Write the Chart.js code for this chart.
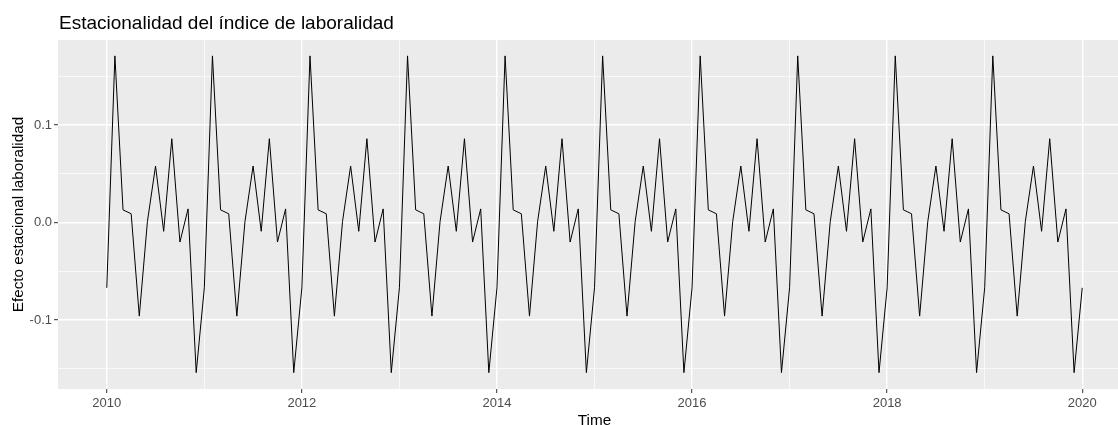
<!DOCTYPE html>
<html>
<head>
<meta charset="utf-8">
<script src="https://cdn.jsdelivr.net/npm/chart.js@4.4.1/dist/chart.umd.min.js"></script>
<style>
  html, body { margin: 0; padding: 0; background: #ffffff; overflow: hidden; }
  #wrap { position: relative; width: 1131px; height: 425px; }
</style>
</head>
<body>
<div id="wrap"><canvas id="laboralidadChart" width="1131" height="425"></canvas></div>
<script>
// monthly series, starts Jan 2010
const startYear = 2010;
const monthsPerYear = 12;
const efectoLaboralidad = [
  -0.067, 0.171, 0.013, 0.009, -0.096, 0.001, 0.058, -0.009, 0.086, -0.020, 0.014, -0.154, // 2010
  -0.067, 0.171, 0.013, 0.009, -0.096, 0.001, 0.058, -0.009, 0.086, -0.020, 0.014, -0.154, // 2011
  -0.067, 0.171, 0.013, 0.009, -0.096, 0.001, 0.058, -0.009, 0.086, -0.020, 0.014, -0.154, // 2012
  -0.067, 0.171, 0.013, 0.009, -0.096, 0.001, 0.058, -0.009, 0.086, -0.020, 0.014, -0.154, // 2013
  -0.067, 0.171, 0.013, 0.009, -0.096, 0.001, 0.058, -0.009, 0.086, -0.020, 0.014, -0.154, // 2014
  -0.067, 0.171, 0.013, 0.009, -0.096, 0.001, 0.058, -0.009, 0.086, -0.020, 0.014, -0.154, // 2015
  -0.067, 0.171, 0.013, 0.009, -0.096, 0.001, 0.058, -0.009, 0.086, -0.020, 0.014, -0.154, // 2016
  -0.067, 0.171, 0.013, 0.009, -0.096, 0.001, 0.058, -0.009, 0.086, -0.020, 0.014, -0.154, // 2017
  -0.067, 0.171, 0.013, 0.009, -0.096, 0.001, 0.058, -0.009, 0.086, -0.020, 0.014, -0.154, // 2018
  -0.067, 0.171, 0.013, 0.009, -0.096, 0.001, 0.058, -0.009, 0.086, -0.020, 0.014, -0.154, // 2019
  -0.067                                                                                   // 2020
];

const xTicks = [2010, 2011, 2012, 2013, 2014, 2015, 2016, 2017, 2018, 2019, 2020];
const xMajorTicks = [2010, 2012, 2014, 2016, 2018, 2020];
const yTicks = [-0.15, -0.1, -0.05, 0, 0.05, 0.1, 0.15];
const yMajorTicks = [-0.1, 0, 0.1];
const yTickLabels = ['-0.1', '0.0', '0.1'];

const chartTitle = 'Estacionalidad del índice de laboralidad';
const yTitle = 'Efecto estacional laboralidad';
const xTitle = 'Time';

const fontFamily = '"Liberation Sans", Arial, Helvetica, sans-serif';

const points = efectoLaboralidad.map((v, i) => ({ x: startYear + i / monthsPerYear, y: v }));

const majorIndex = (list, v) => list.findIndex((m) => Math.abs(m - v) < 1e-9);

// grey panel like ggplot + title at the panel's left edge
const panelPlugin = {
  id: 'panel',
  beforeDraw(chart) {
    const { ctx, chartArea } = chart;
    ctx.save();
    ctx.fillStyle = '#EBEBEB';
    ctx.fillRect(chartArea.left, chartArea.top, chartArea.right - chartArea.left, chartArea.bottom - chartArea.top);
    ctx.restore();
  },
  afterDraw(chart) {
    const { ctx, chartArea } = chart;
    ctx.save();
    ctx.fillStyle = '#000000';
    ctx.font = '19px ' + fontFamily;
    ctx.textAlign = 'left';
    ctx.textBaseline = 'alphabetic';
    ctx.fillText(chartTitle, chartArea.left + 1, 29);
    ctx.restore();
  },
};

const gridWidth = (list) => (c) => (c.tick && majorIndex(list, c.tick.value) >= 0 ? 1.4 : 0.7);
const tickColor = (list) => (c) => (c.tick && majorIndex(list, c.tick.value) >= 0 ? '#333333' : 'rgba(0,0,0,0)');

const config = {
  type: 'line',
  data: {
    datasets: [
      {
        data: points,
        borderColor: '#000000',
        borderWidth: 1,
        pointRadius: 0,
        tension: 0,
        fill: false,
      },
    ],
  },
  options: {
    responsive: false,
    animation: false,
    layout: { padding: { top: 40, right: 0, bottom: 0, left: 0 } },
    plugins: {
      legend: { display: false },
      tooltip: { enabled: false },
      title: { display: false },
    },
    scales: {
      x: {
        type: 'linear',
        min: 2009.5,
        max: 2020.5,
        afterBuildTicks: (scale) => { scale.ticks = xTicks.map((v) => ({ value: v })); },
        afterFit: (scale) => { scale.height = 36; },
        border: { display: false },
        grid: {
          color: '#FFFFFF',
          lineWidth: gridWidth(xMajorTicks),
          tickColor: tickColor(xMajorTicks),
          tickWidth: 1,
          tickLength: 4,
        },
        ticks: {
          autoSkip: false,
          maxRotation: 0,
          padding: 3,
          color: '#4D4D4D',
          font: { family: fontFamily, size: 13 },
          callback: (v) => (majorIndex(xMajorTicks, v) >= 0 ? String(v) : ''),
        },
        title: {
          display: true,
          text: xTitle,
          color: '#000000',
          font: { family: fontFamily, size: 15.3 },
          padding: { top: 0, bottom: -5 },
        },
      },
      y: {
        type: 'linear',
        min: -0.1708,
        max: 0.1873,
        afterBuildTicks: (scale) => { scale.ticks = yTicks.map((v) => ({ value: v })); },
        afterFit: (scale) => { scale.width = 58; },
        border: { display: false },
        grid: {
          color: '#FFFFFF',
          lineWidth: gridWidth(yMajorTicks),
          tickColor: tickColor(yMajorTicks),
          tickWidth: 1,
          tickLength: 4,
        },
        ticks: {
          autoSkip: false,
          padding: 2,
          color: '#4D4D4D',
          font: { family: fontFamily, size: 13 },
          callback: (v) => {
            const k = majorIndex(yMajorTicks, v);
            return k >= 0 ? yTickLabels[k] : '';
          },
        },
        title: {
          display: true,
          text: yTitle,
          color: '#000000',
          font: { family: fontFamily, size: 15.3 },
          padding: { top: 10, bottom: 0 },
        },
      },
    },
  },
  plugins: [panelPlugin],
};

new Chart(document.getElementById('laboralidadChart'), config);
</script>
</body>
</html>
